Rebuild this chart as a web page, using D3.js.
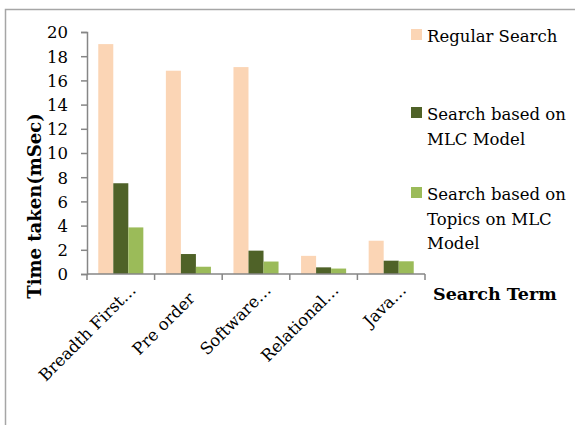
<!DOCTYPE html>
<html>
<head>
<meta charset="utf-8">
<script src="https://cdn.jsdelivr.net/npm/d3@7"></script>
<style>
  body { margin: 0; background: #fff; }
  text { font-family: "DejaVu Serif", "Liberation Serif", serif; fill: #000; }
</style>
</head>
<body>
<script>
// chart data
var terms = ["Breadth First…", "Pre order", "Software…", "Relational…", "Java…"];
var seriesNames = ["Regular Search", "Search based on MLC Model", "Search based on Topics on MLC Model"];
var regular = [19.0, 16.8, 17.1, 1.5, 2.75];
var mlc     = [7.5, 1.65, 1.93, 0.55, 1.1];
var topics  = [3.85, 0.6, 1.03, 0.45, 1.05];
var yTicks  = [0, 2, 4, 6, 8, 10, 12, 14, 16, 18, 20];
var colors  = ["#FBD5B5", "#4F6228", "#9BBB59"];
var legendLines = [["Regular Search"], ["Search based on", "MLC Model"], ["Search based on", "Topics on MLC", "Model"]];

var width = 575, height = 425;
var fs = "16.5px";
var svg = d3.select("body").append("svg")
    .attr("width", width)
    .attr("height", height);

// outer frame
svg.append("rect")
    .attr("x", 5.5).attr("y", 9.5)
    .attr("width", width + 10).attr("height", height + 10)
    .attr("fill", "none").attr("stroke", "#a6a6a6").attr("stroke-width", 1.5);

var plotLeft = 87, plotRight = 425, plotTop = 32, plotBottom = 274;

var x0 = d3.scaleBand().domain(terms).range([plotLeft, plotRight]).paddingInner(0).paddingOuter(0);
var x1 = d3.scaleBand().domain([0, 1, 2]).range([0, x0.bandwidth()]).paddingOuter(0.75).paddingInner(0);
var y = d3.scaleLinear().domain([0, 20]).range([plotBottom, plotTop]);

var data = terms.map(function(t, i) { return [regular[i], mlc[i], topics[i]]; });

var groups = svg.selectAll("g.grp")
  .data(data)
  .enter().append("g")
    .attr("class", "grp")
    .attr("transform", function(d, i) { return "translate(" + x0(terms[i]) + ",0)"; });

groups.selectAll("rect")
  .data(function(d) { return d; })
  .enter().append("rect")
    .attr("x", function(d, j) { return x1(j); })
    .attr("width", x1.bandwidth())
    .attr("y", function(d) { return y(d); })
    .attr("height", function(d) { return plotBottom - y(d); })
    .attr("fill", function(d, j) { return colors[j]; });

// y axis
var yAxis = svg.append("g")
    .attr("transform", "translate(" + plotLeft + ",0)")
    .call(d3.axisLeft(y).tickValues(yTicks).tickSize(6).tickSizeOuter(6));
yAxis.selectAll("path, line").attr("stroke", "#868686").attr("stroke-width", 1.5);
yAxis.selectAll("text")
    .style("font-family", "DejaVu Serif, serif")
    .style("font-size", fs)
    .attr("x", -19).attr("dy", "0.36em");

// x axis
var xAxis = svg.append("g")
    .attr("transform", "translate(0," + plotBottom + ")");
xAxis.append("line")
    .attr("x1", plotLeft).attr("x2", plotRight)
    .attr("stroke", "#868686").attr("stroke-width", 1.5);
var tickPos = terms.map(function(t) { return x0(t); }).concat([plotRight]);
xAxis.selectAll("line.tk")
  .data(tickPos)
  .enter().append("line")
    .attr("class", "tk")
    .attr("x1", function(d) { return d; }).attr("x2", function(d) { return d; })
    .attr("y1", 0).attr("y2", 6)
    .attr("stroke", "#868686").attr("stroke-width", 1.5);

xAxis.selectAll("text.cat")
  .data(terms)
  .enter().append("text")
    .attr("class", "cat")
    .attr("text-anchor", "end")
    .style("font-size", fs)
    .attr("transform", function(d) {
      return "translate(" + (x0(d) + x0.bandwidth() / 2 + 16) + ",17) rotate(-45)";
    })
    // labels that were not cut short sit a little further back
    .attr("dx", function(d) { return d.slice(-1) === "…" ? 0 : -12; })
    .text(function(d) { return d; });

// axis titles
svg.append("text")
    .attr("transform", "translate(41,206) rotate(-90)")
    .attr("text-anchor", "middle")
    .style("font-size", "18px")
    .style("font-weight", "bold")
    .text("Time taken(mSec)");

svg.append("text")
    .attr("x", 433).attr("y", 300)
    .style("font-size", "17.5px")
    .style("font-weight", "bold")
    .text("Search Term");

// legend
var legendY = [29, 107, 187];
var legend = svg.selectAll("g.leg")
  .data(seriesNames)
  .enter().append("g")
    .attr("class", "leg")
    .attr("transform", function(d, i) { return "translate(411," + legendY[i] + ")"; });
legend.append("rect")
    .attr("width", 11).attr("height", 11)
    .attr("fill", function(d, i) { return colors[i]; });
legend.each(function(d, i) {
  var g = d3.select(this);
  legendLines[i].forEach(function(line, k) {
    g.append("text")
      .attr("x", 16).attr("y", 13 + k * 24.5)
      .style("font-size", fs)
      .text(line);
  });
});
</script>
</body>
</html>
